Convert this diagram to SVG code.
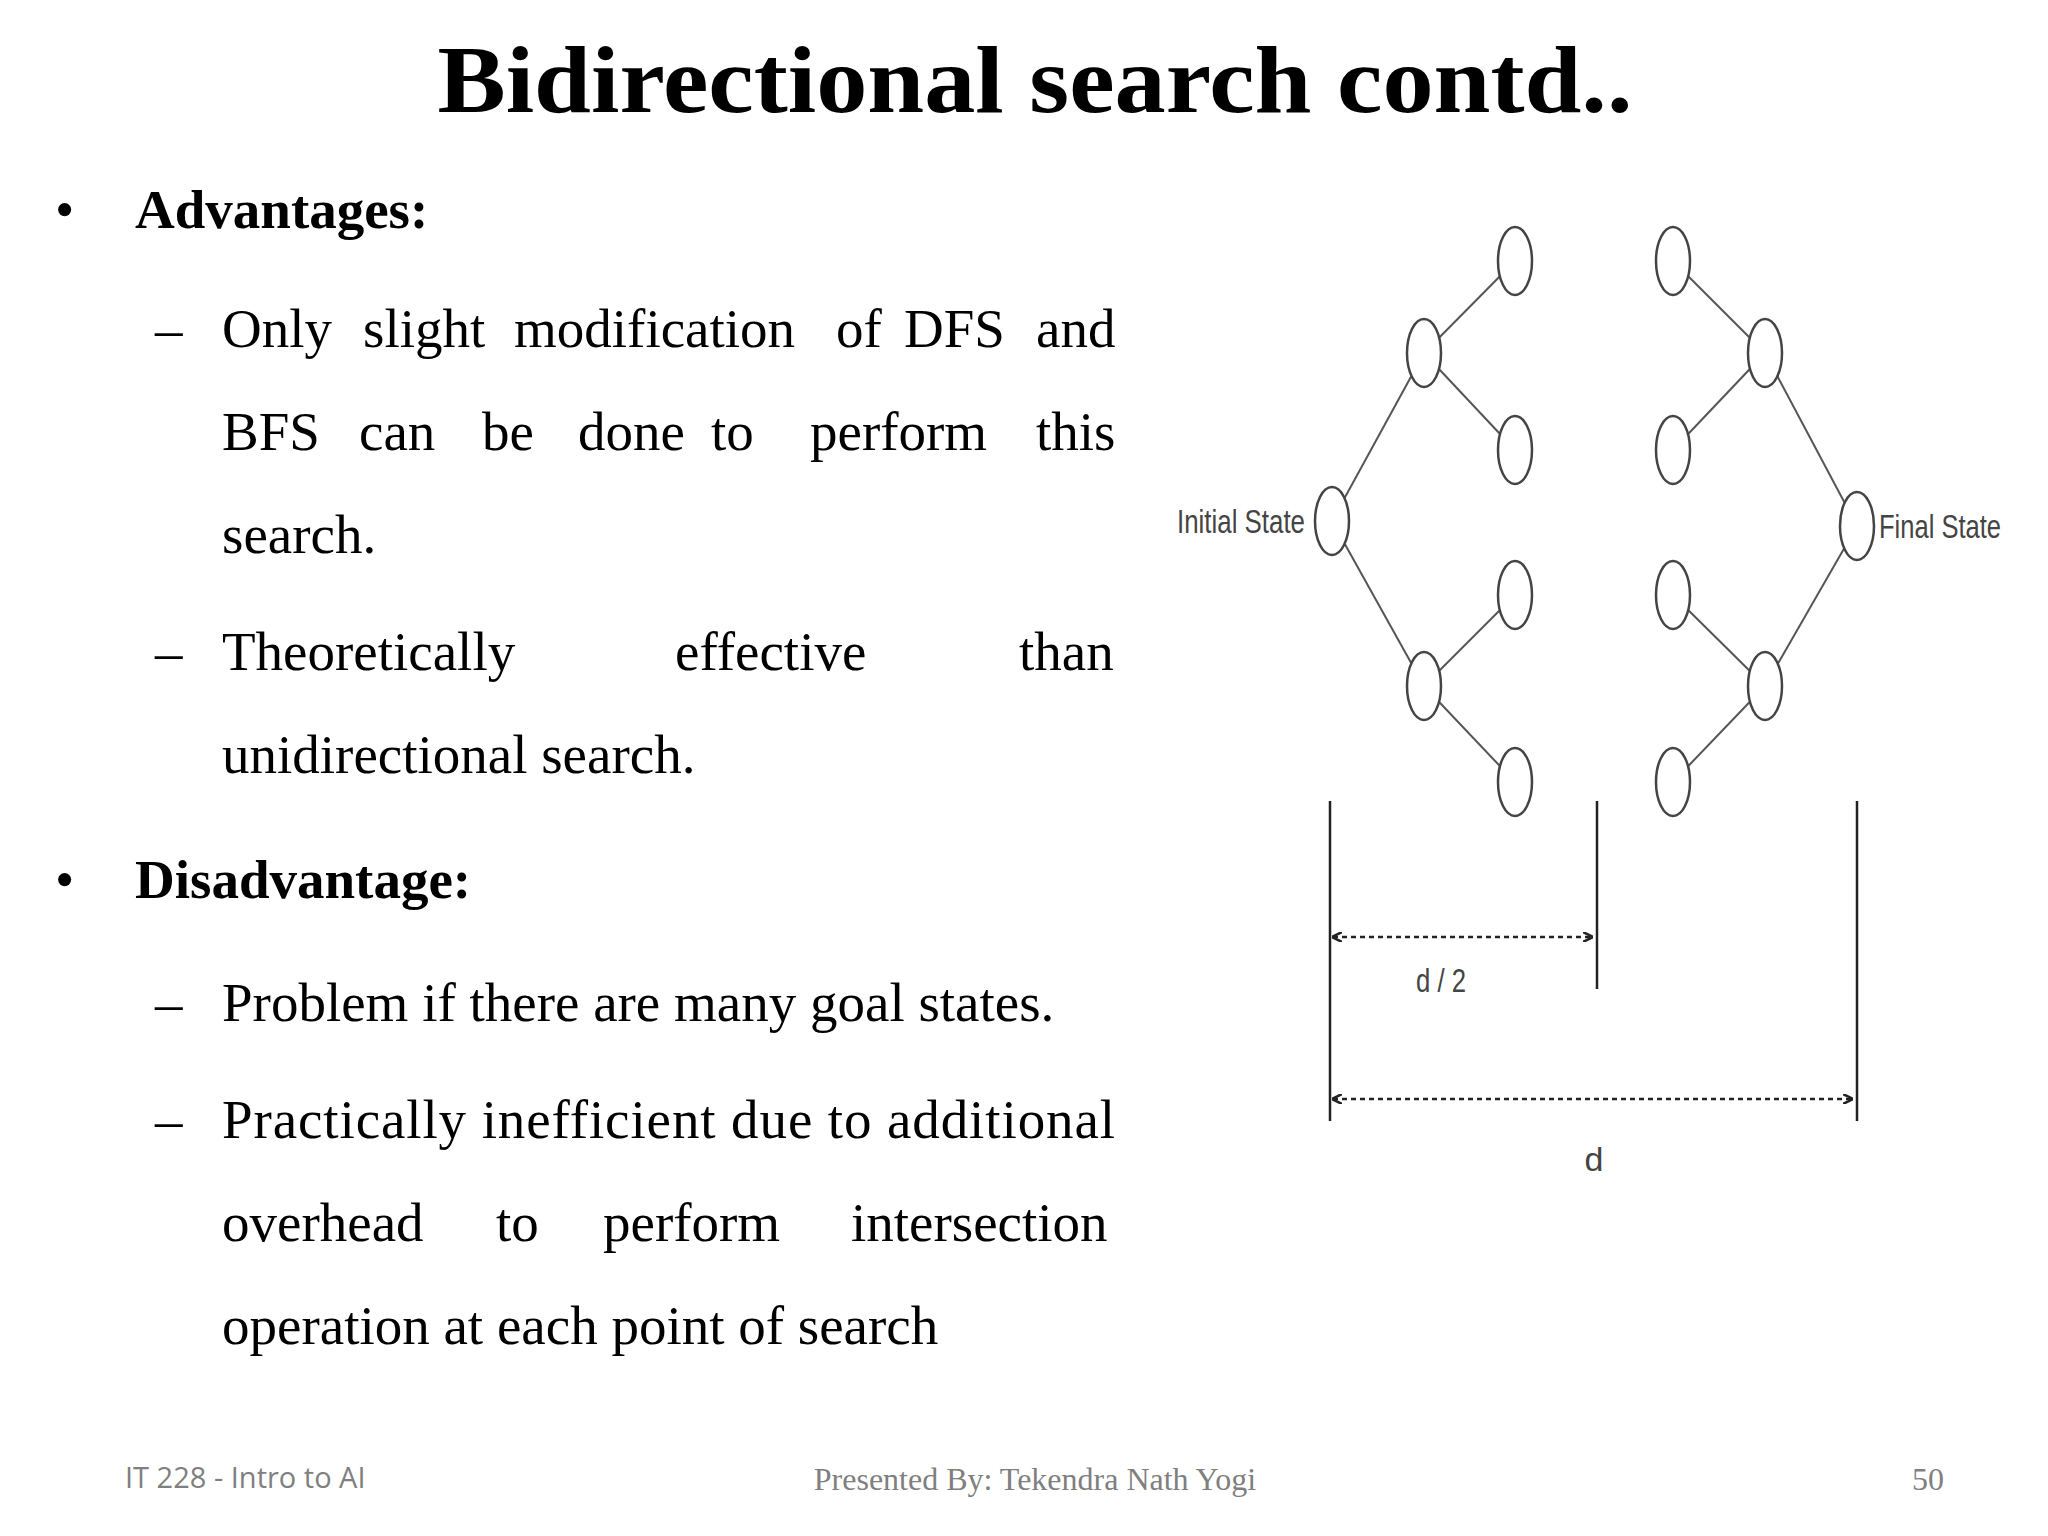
<svg xmlns="http://www.w3.org/2000/svg" width="2048" height="1536" viewBox="0 0 2048 1536">
<style>
.t{font-family:"Liberation Serif","Times New Roman",serif;fill:#000}
.b{font-size:55px}
.n{fill:#fff;stroke:#444;stroke-width:2.5}
.e{stroke:#555;stroke-width:2}
.lbl{font-family:"Liberation Sans",Arial,sans-serif;fill:#444;font-size:34px}
.v{stroke:#222;stroke-width:2.5}
.dash{stroke:#222;stroke-width:2.5;stroke-dasharray:5 4}
</style>
<defs>
<marker id="ah" markerWidth="10" markerHeight="10" refX="9" refY="5" orient="auto-start-reverse" markerUnits="userSpaceOnUse"><path d="M0,0 L10,5 L0,10" fill="none" stroke="#222" stroke-width="2.5"/></marker>
</defs>
<rect width="2048" height="1536" fill="#fff"/>
<text class="t" x="1035" y="112" font-size="96" font-weight="bold" text-anchor="middle" textLength="1195" lengthAdjust="spacingAndGlyphs">Bidirectional search contd..</text>
<g class="t b" transform="translate(0,-7)">
<text x="55" y="235">•</text>
<text x="135" y="235" font-weight="bold">Advantages:</text>
<text x="155" y="354">–</text>
<text y="354"><tspan x="222">Only</tspan><tspan x="363">slight</tspan><tspan x="514">modification</tspan><tspan x="836">of</tspan><tspan x="904">DFS</tspan><tspan x="1036">and</tspan></text>
<text y="457"><tspan x="222">BFS</tspan><tspan x="359">can</tspan><tspan x="482">be</tspan><tspan x="578">done</tspan><tspan x="711">to</tspan><tspan x="810">perform</tspan><tspan x="1036">this</tspan></text>
<text x="222" y="560">search.</text>
<text x="155" y="677">–</text>
<text y="677"><tspan x="222">Theoretically</tspan><tspan x="675">effective</tspan><tspan x="1019">than</tspan></text>
<text x="222" y="780">unidirectional search.</text>
<text x="55" y="905">•</text>
<text x="135" y="905" font-weight="bold">Disadvantage:</text>
<text x="155" y="1028">–</text>
<text x="222" y="1028">Problem if there are many goal states.</text>
<text x="155" y="1145">–</text>
<text x="222" y="1145" textLength="893" lengthAdjust="spacing">Practically inefficient due to additional</text>
<text y="1248"><tspan x="222">overhead</tspan><tspan x="496">to</tspan><tspan x="603">perform</tspan><tspan x="851">intersection</tspan></text>
<text x="222" y="1351">operation at each point of search</text>
</g>
<g transform="translate(-17,-7)">
<g id="connectors">
<line class="e" x1="1349" y1="528" x2="1441" y2="360"/>
<line class="e" x1="1349" y1="528" x2="1441" y2="693"/>
<line class="e" x1="1441" y1="360" x2="1532" y2="268"/>
<line class="e" x1="1441" y1="360" x2="1532" y2="457"/>
<line class="e" x1="1441" y1="693" x2="1532" y2="602"/>
<line class="e" x1="1441" y1="693" x2="1532" y2="789"/>
<line class="e" x1="1874" y1="533" x2="1782" y2="360"/>
<line class="e" x1="1874" y1="533" x2="1782" y2="693"/>
<line class="e" x1="1782" y1="360" x2="1690" y2="268"/>
<line class="e" x1="1782" y1="360" x2="1690" y2="457"/>
<line class="e" x1="1782" y1="693" x2="1690" y2="602"/>
<line class="e" x1="1782" y1="693" x2="1690" y2="789"/>
<line class="v" x1="1347" y1="808" x2="1347" y2="1128"/>
<line class="v" x1="1614" y1="808" x2="1614" y2="996"/>
<line class="v" x1="1874" y1="808" x2="1874" y2="1128"/>
<line class="dash" x1="1350" y1="944" x2="1609" y2="944" marker-start="url(#ah)" marker-end="url(#ah)"/>
<line class="dash" x1="1350" y1="1106" x2="1869" y2="1106" marker-start="url(#ah)" marker-end="url(#ah)"/>
</g>
<g id="initial"><ellipse class="n" cx="1349" cy="528" rx="17" ry="34"/><text class="lbl" x="1322" y="540" text-anchor="end" textLength="128" lengthAdjust="spacingAndGlyphs">Initial State</text></g>
<g id="l1a"><ellipse class="n" cx="1441" cy="360" rx="17" ry="34"/></g>
<g id="l1b"><ellipse class="n" cx="1441" cy="693" rx="17" ry="34"/></g>
<g id="l2a"><ellipse class="n" cx="1532" cy="268" rx="17" ry="34"/></g>
<g id="l2b"><ellipse class="n" cx="1532" cy="457" rx="17" ry="34"/></g>
<g id="l2c"><ellipse class="n" cx="1532" cy="602" rx="17" ry="34"/></g>
<g id="l2d"><ellipse class="n" cx="1532" cy="789" rx="17" ry="34"/></g>
<g id="final"><ellipse class="n" cx="1874" cy="533" rx="17" ry="34"/><text class="lbl" x="1896" y="545" textLength="122" lengthAdjust="spacingAndGlyphs">Final State</text></g>
<g id="r1a"><ellipse class="n" cx="1782" cy="360" rx="17" ry="34"/></g>
<g id="r1b"><ellipse class="n" cx="1782" cy="693" rx="17" ry="34"/></g>
<g id="r2a"><ellipse class="n" cx="1690" cy="268" rx="17" ry="34"/></g>
<g id="r2b"><ellipse class="n" cx="1690" cy="457" rx="17" ry="34"/></g>
<g id="r2c"><ellipse class="n" cx="1690" cy="602" rx="17" ry="34"/></g>
<g id="r2d"><ellipse class="n" cx="1690" cy="789" rx="17" ry="34"/></g>
<text class="lbl" x="1458" y="999" text-anchor="middle" textLength="50" lengthAdjust="spacingAndGlyphs">d / 2</text>
<text class="lbl" x="1611" y="1178" text-anchor="middle">d</text>
</g>
<text x="125" y="1488" font-family="'Open Sans',sans-serif" font-size="29" fill="#7f7f7f">IT 228 - Intro to AI</text>
<text x="1035" y="1490" font-family="'Liberation Serif',serif" font-size="32" fill="#7f7f7f" text-anchor="middle">Presented By: Tekendra Nath Yogi</text>
<text x="1944" y="1490" font-family="'Liberation Serif',serif" font-size="32" fill="#7f7f7f" text-anchor="end">50</text>
</svg>
